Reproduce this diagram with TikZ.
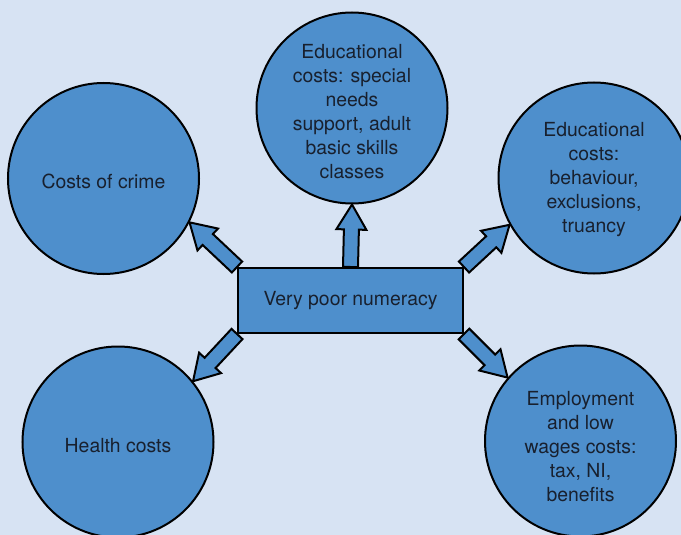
\documentclass[tikz,border=0pt]{standalone}
\usepackage{fontspec}
\setmainfont{TeX Gyre Heros}
\usetikzlibrary{calc}
\definecolor{bgblue}{HTML}{D7E3F3}
\definecolor{fillblue}{HTML}{4E8FCC}
\definecolor{inkcol}{HTML}{18202E}
\tikzset{
  bubble/.style={circle, draw=black, line width=2pt, fill=fillblue, minimum size=191pt, inner sep=0pt},
  bubbletext/.style={align=center, text=inkcol, inner sep=0pt, font=\fontsize{19.4}{24}\selectfont},
  centrebox/.style={rectangle, draw=black, line width=2pt, fill=fillblue, minimum width=225pt, minimum height=65pt,
    inner sep=0pt, text=inkcol, font=\fontsize{19.4}{24}\selectfont},
  arrowsty/.style={draw=black, fill=fillblue, line width=2pt, line join=miter}
}
\newcommand\blockarr[2]{%
  \draw[arrowsty] let \p1=(#1), \p2=(#2), \n1={atan2(\y2-\y1,\x2-\x1)}, \n2={veclen(\x2-\x1,\y2-\y1)} in
    [shift={(\p1)}, rotate=\n1]
    (0pt,-7.5pt) -- ({\n2-25pt},-7.5pt) -- ({\n2-25pt},-15pt) -- ({\n2*1pt},0pt)
    -- ({\n2-25pt},15pt) -- ({\n2-25pt},7.5pt) -- (0pt,7.5pt) -- cycle;
}
\begin{document}
\begin{tikzpicture}[x=1pt,y=-1pt]
\fill[bgblue] (0,0) rectangle (681,535);
\useasboundingbox (0,0) rectangle (681,535);
\begin{scope}
\clip (0,0) rectangle (681,535);
\node[bubble] (crime) at (103.5,178.5) {};
\node[bubble] (edu1) at (352,108) {};
\node[bubble] (edu2) at (594,178) {};
\node[bubble] (health) at (118,442) {};
\node[bubble] (emp) at (580.5,441) {};
\node[bubbletext] (crimet) at ([yshift=-2.5pt]crime.center) {Costs of crime};
\node[bubbletext] (edu1t) at ([yshift=-4pt]edu1.center) {Educational\\costs: special\\needs\\support, adult\\basic skills\\classes};
\node[bubbletext] (edu2t) at ([yshift=-1.5pt]edu2.center) {Educational\\costs:\\behaviour,\\exclusions,\\truancy};
\node[bubbletext] (healtht) at ([yshift=-4pt]health.center) {Health costs};
\node[bubbletext] (empt) at ([yshift=-6pt]emp.center) {Employment\\and low\\wages costs:\\tax, NI,\\benefits};
\coordinate (box) at (350.5,300.5);
\path (box) node[centrebox, draw=none, fill=none] (cb) {\phantom{Very poor numeracy}};
\blockarr{cb.north west}{crime.-27}
\blockarr{cb.north}{edu1.south}
\blockarr{cb.north east}{edu2.-151}
\blockarr{cb.south west}{health.39}
\blockarr{cb.south east}{emp.139}
\node[centrebox] (main) at (box) {Very poor numeracy};
\end{scope}
\end{tikzpicture}
\end{document}
